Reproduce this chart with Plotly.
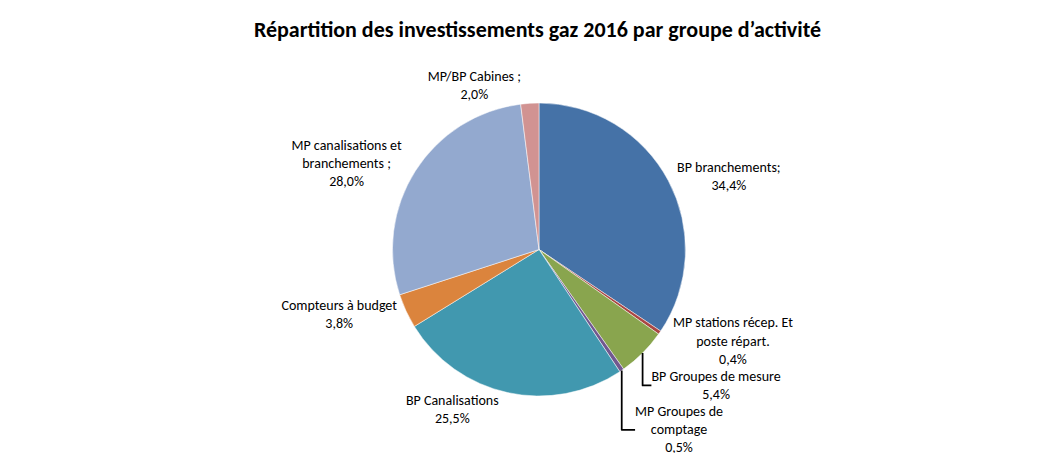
import plotly.graph_objects as go

labels = ["BP branchements;", "MP stations récep. Et<br>poste répart.", "BP Groupes de mesure",
          "MP Groupes de<br>comptage", "BP Canalisations", "Compteurs à budget",
          "MP canalisations et<br>branchements ;", "MP/BP Cabines ;"]
values = [34.4, 0.4, 5.4, 0.5, 25.5, 3.8, 28.0, 2.0]
value_text = ["34,4%", "0,4%", "5,4%", "0,5%", "25,5%", "3,8%", "28,0%", "2,0%"]
colors = ["#4572A7", "#AA4643", "#89A54E", "#71588F", "#4198AF", "#DB843D", "#93A9CF", "#D19392"]

fig = go.Figure(go.Pie(
    labels=labels, values=values, customdata=value_text,
    sort=False, direction="clockwise", rotation=0,
    marker=dict(colors=colors, line=dict(color="white", width=0.5)),
    texttemplate="%{label}<br>%{customdata}", textposition="outside",
    textfont=dict(family="Carlito, Liberation Sans, sans-serif", size=14, color="black"),
    showlegend=False, hoverinfo="label+percent",
))
fig.update_layout(
    width=1059, height=453,
    title=dict(text="<b>Répartition des investissements gaz 2016 par groupe d’activité</b>",
               x=0.5, y=0.97, font=dict(family="Carlito, Liberation Sans, sans-serif", size=22, color="black")),
    margin=dict(l=40, r=40, t=95, b=60),
    paper_bgcolor="white",
)
fig.write_html("out.html")
